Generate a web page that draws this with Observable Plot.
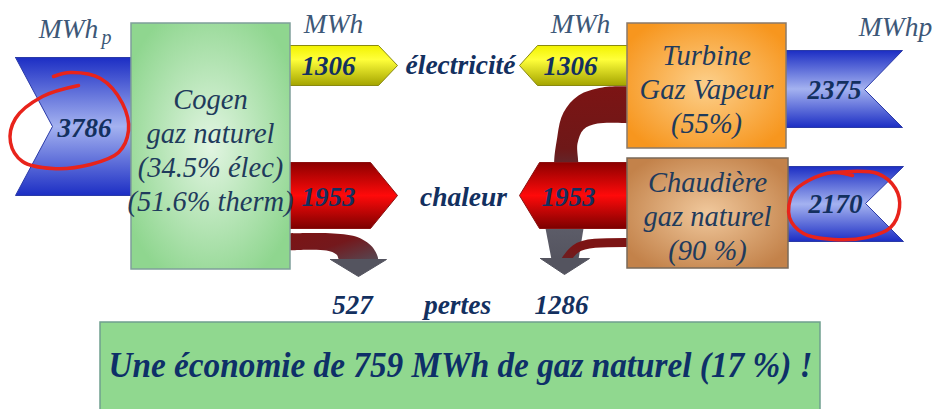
<!DOCTYPE html>
<html><head><meta charset="utf-8">
<script src="https://cdn.jsdelivr.net/npm/d3@7"></script>
<script src="https://cdn.jsdelivr.net/npm/@observablehq/plot@0.6"></script>
<style>html,body{margin:0;padding:0;background:#fff;overflow:hidden}</style>
</head><body><div id="chart"></div>
<script>
// ---------------- data ----------------
const flowIds    = ["gazCogen", "elecCogen", "elecTGV", "heatCogen", "heatChaud", "lossCogen", "lossSep", "gazTGV", "gazChaud"];
const flowValues = [3786, 1306, 1306, 1953, 1953, 527, 1286, 2375, 2170];
const unitLabels = ["MWh", "MWh", "MWh", "MWhp"];
const boxIds     = ["cogen", "tgv", "chaud", "saving"];
const boxLabels  = ["Cogen\ngaz naturel\n(34.5% élec)\n(51.6% therm)", "Turbine\nGaz Vapeur\n(55%)", "Chaudière\ngaz naturel\n(90 %)"];
const flowWords  = ["électricité", "chaleur", "pertes"];
const savingMWh  = 759;
const savingPct  = 17;
const savingText = `Une économie de ${savingMWh} MWh de gaz naturel (${savingPct} %) !`;

// ---------------- layout (pixel coordinates of the diagram) ----------------
const W = 935, H = 409;
const poly = (id, pts) => [...pts, pts[0]].map(([x, y]) => ({id, x, y}));
const open = (id, pts) => pts.map(([x, y]) => ({id, x, y}));
const blueShapes = [
  ...poly("gazCogen", [[15,57],[140,57],[140,195],[15,195],[52,126]]),
  ...poly("gazTGV",   [[778,50],[902,50],[864,89],[902,127],[778,127]]),
  ...poly("gazChaud", [[778,166],[903,166],[865,203],[903,241],[778,241]])
];
const yellowShapes = [
  ...poly("elecCogen", [[286,45],[378,45],[397,65],[378,85],[286,85]]),
  ...poly("elecTGV",   [[632,45],[537,45],[519,65],[537,85],[632,85]])
];
const redShapes = [
  ...poly("heatCogen", [[286,162],[370,162],[397,195],[370,228],[286,228]]),
  ...poly("heatChaud", [[632,162],[539,162],[519,195],[539,228],[632,228]])
];
// curved loss bands (outlines smoothed by the curve)
const lossCogenBand = open("a", [[286,233],[333,233],[358,237],[373,248],[377,261],[340,261],[336,254],[326,250],[286,250]]);
const lossTGVBand   = open("b", [[632,86],[602,87],[578,95],[563,112],[557,135],[556,172],[576,172],[577,143],[583,129],[597,123],[632,123]]);
const lossLowBand   = poly("c", [[545,228],[583,228],[578,259],[551,259]]);
const lossChaudBand = open("d", [[632,242],[590,242],[574,247],[565,260]]);
const arrowHeads = [
  ...poly("h1", [[330,259],[386,259],[358,276]]),
  ...poly("h2", [[540,258],[589,258],[564,274]])
];
const boxes = [
  {id:"cogen",  x1:131, x2:290, y1:23,  y2:269, fill:"url(#gGreen)",  stroke:"#7f9f9a"},
  {id:"tgv",    x1:627, x2:786, y1:23,  y2:148, fill:"url(#gOrange)", stroke:"#8a7a6a"},
  {id:"chaud",  x1:627, x2:788, y1:158, y2:268, fill:"url(#gBrown)",  stroke:"#7a6a5a"},
  {id:"saving", x1:100, x2:820, y1:322, y2:414, fill:"#90d88f",       stroke:"#6f9f8f"}
];
const circleA = [[78,85],[42,96],[15,118],[10,142],[22,161],[52,168],[90,164],[118,152],[128,130],[122,103],[100,78],[70,72],[53,76]].map(([x,y]) => ({x,y}));
const circleB = [[833,172],[877,173],[895,188],[899,207],[890,227],[866,237],[833,239],[803,233],[789,217],[792,193],[808,180],[833,172],[852,175]].map(([x,y]) => ({x,y}));

// label placement
const numPos = {
  gazCogen:[84,128], elecCogen:[328,66], elecTGV:[570,66], heatCogen:[328,197], heatChaud:[568,197],
  lossCogen:[352,305], lossSep:[561,305], gazTGV:[834,90], gazChaud:[835,204]
};
const nums = flowIds.map((id, i) => ({id, v: String(flowValues[i]), x: numPos[id][0], y: numPos[id][1]}));
const unitPos = [[68,28.5],[333,23.5],[580,23.5],[895,26.5]];
const units = unitLabels.map((t, i) => ({t, x: unitPos[i][0], y: unitPos[i][1]}));
const boxTextPos = [[210,149],[706,88],[707,215]];
const boxTexts = boxLabels.map((t, i) => ({t, x: boxTextPos[i][0], y: boxTextPos[i][1]}));
const wordPos = [[460,65],[463,197],[457,305]];
const words = flowWords.map((t, i) => ({t, x: wordPos[i][0], y: wordPos[i][1]}));

const serif = "Liberation Serif";
const navy = "#13305f";
const slate = "#3d5878";

const svg = Plot.plot({
  width: W, height: H, margin: 0,
  x: {domain: [0, W], range: [0, W], axis: null},
  y: {domain: [0, H], range: [0, H], axis: null},
  marks: [
    // loss flows (behind)
    Plot.line(lossCogenBand, {x:"x", y:"y", z:"id", curve:"catmull-rom", fill:"url(#gLoss)", stroke:"none"}),
    Plot.line(lossTGVBand, {x:"x", y:"y", z:"id", curve:"catmull-rom", fill:"url(#gLossV)", stroke:"none"}),
    Plot.line(lossLowBand, {x:"x", y:"y", z:"id", fill:"url(#gGrayV)", stroke:"none"}),
    Plot.line(lossChaudBand, {x:"x", y:"y", z:"id", curve:"basis", stroke:"url(#gLoss2)", strokeWidth:9, strokeLinecap:"butt"}),
    Plot.line(arrowHeads, {x:"x", y:"y", z:"id", fill:"#54545f", stroke:"#54545f", strokeWidth:1}),
    // flow arrows
    Plot.line(blueShapes, {x:"x", y:"y", z:"id", fill:"url(#gBlue)", stroke:"#2a3aa8", strokeWidth:1}),
    Plot.line(yellowShapes, {x:"x", y:"y", z:"id", fill:"url(#gYellow)", stroke:"#8a8a10", strokeWidth:1}),
    Plot.line(redShapes, {x:"x", y:"y", z:"id", fill:"url(#gRed)", stroke:"#8a1010", strokeWidth:1}),
    // boxes
    Plot.rect(boxes, {x1:"x1", x2:"x2", y1:"y1", y2:"y2", fill:"fill", stroke:"stroke", strokeWidth:1.5}),
    // texts
    Plot.text(boxTexts, {x:"x", y:"y", text:"t", fontFamily:serif, fontStyle:"italic", fontSize:28.5, lineHeight:1.19, fill:"#1f3b5c"}),
    Plot.text(units, {x:"x", y:"y", text:"t", fontFamily:serif, fontStyle:"italic", fontSize:27.5, fill:slate}),
    Plot.text([{t:"p", x:106, y:37}], {x:"x", y:"y", text:"t", fontFamily:serif, fontStyle:"italic", fontSize:20, fill:slate}),
    Plot.text(nums, {x:"x", y:"y", text:"v", fontFamily:serif, fontStyle:"italic", fontWeight:"bold", fontSize:27, fill:navy}),
    Plot.text(words, {x:"x", y:"y", text:"t", fontFamily:serif, fontStyle:"italic", fontWeight:"bold", fontSize:27.5, fill:navy}),
    Plot.text([{t:savingText, x:460, y:365}], {x:"x", y:"y", text:"t", fontFamily:serif, fontStyle:"italic", fontWeight:"bold", fontSize:36, fill:"#0e3068"}),
    // hand-drawn red annotations
    Plot.line(circleA, {x:"x", y:"y", curve:"catmull-rom", stroke:"#e8231b", strokeWidth:3.5}),
    Plot.line(circleB, {x:"x", y:"y", curve:"catmull-rom", stroke:"#e8231b", strokeWidth:3.5})
  ]
});

// gradients
const defs = d3.select(svg).insert("defs", ":first-child");
function lin(id, stops, x2 = 0, y2 = 1) {
  const g = defs.append("linearGradient").attr("id", id).attr("x1", 0).attr("y1", 0).attr("x2", x2).attr("y2", y2);
  stops.forEach(([o, c]) => g.append("stop").attr("offset", o).attr("stop-color", c));
}
function rad(id, stops) {
  const g = defs.append("radialGradient").attr("id", id).attr("cx", 0.5).attr("cy", 0.5).attr("r", 0.6);
  stops.forEach(([o, c]) => g.append("stop").attr("offset", o).attr("stop-color", c));
}
lin("gBlue", [[0,"#1c2ec4"],[0.5,"#a4b2f0"],[1,"#1c2ec4"]]);
lin("gYellow", [[0,"#f2f200"],[0.35,"#ffff3a"],[1,"#a4a400"]]);
lin("gRed", [[0,"#8c0000"],[0.5,"#ff0a0a"],[1,"#7c0000"]]);
lin("gLoss", [[0,"#7c1414"],[0.45,"#74181c"],[1,"#50505c"]], 1, 1);
lin("gLossV", [[0,"#7c1414"],[0.7,"#6e1818"],[1,"#5a3038"]], 0, 1);
lin("gGrayV", [[0,"#5c5c68"],[1,"#54545f"]]);
lin("gLoss2", [[0,"#7c1414"],[1,"#5a2a30"]], -1, 1);
rad("gGreen", [[0,"#e2f5e2"],[1,"#8fd68f"]]);
rad("gOrange", [[0,"#fcd08c"],[1,"#f7961e"]]);
rad("gBrown", [[0,"#f0c89c"],[1,"#c3824a"]]);

// fit the saving sentence to the width it has in the reference
d3.select(svg).selectAll("text").filter(function() { return this.textContent === savingText; })
  .attr("textLength", 704).attr("lengthAdjust", "spacingAndGlyphs");

document.getElementById("chart").appendChild(svg);
</script>
</body></html>
